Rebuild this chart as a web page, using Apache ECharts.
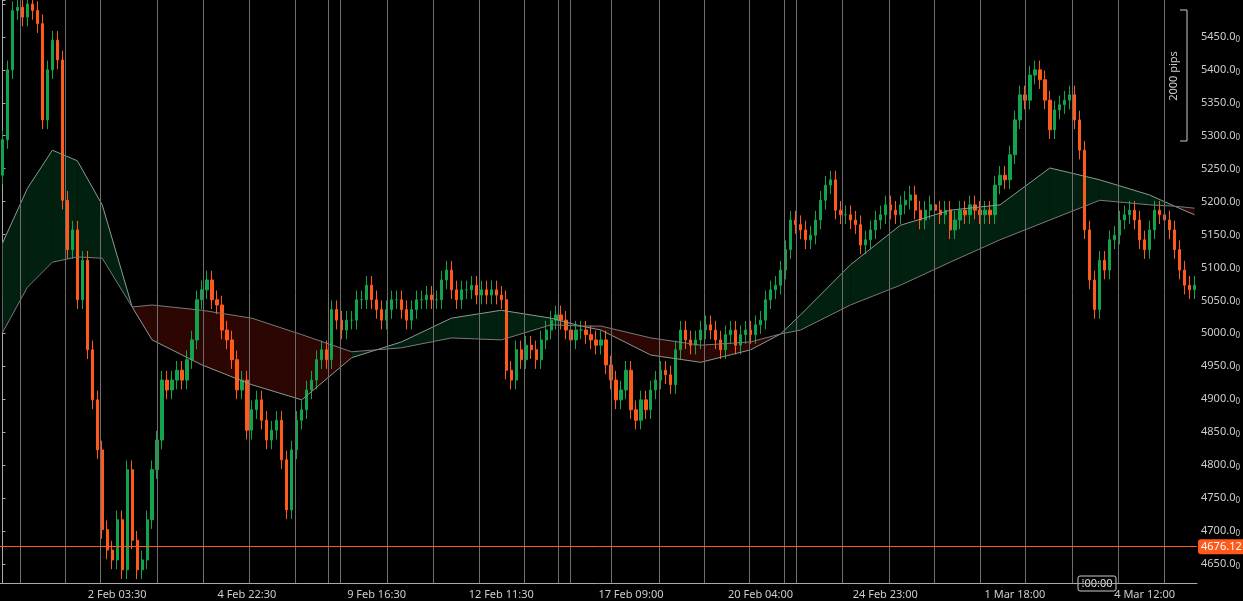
<!DOCTYPE html>
<html><head><meta charset="utf-8">
<script src="https://cdn.jsdelivr.net/npm/echarts@6/dist/echarts.min.js"></script>
<style>html,body{margin:0;background:#000;}#c{width:1243px;height:601px;}</style>
</head><body><div id="c"></div>
<script>
const closes = [
5294,5400,5490,5495,5480,5500,5490,5470,5324,5400,5445,5415,5202,5127,5157,5051,5111,4975,4899,4823,
4702,4671,4656,4717,4641,4793,4686,4641,4656,4717,4793,4838,4929,4914,4929,4944,4929,4960,4990,5051,
5066,5081,5051,5043,5005,4990,4960,4914,4929,4853,4884,4899,4868,4838,4853,4868,4808,4732,4823,4868,
4884,4914,4929,4960,4975,4960,5036,5020,5005,5020,5020,5051,5051,5073,5051,5036,5020,5036,5051,5051,
5036,5020,5036,5051,5051,5058,5051,5051,5081,5096,5066,5051,5066,5066,5073,5058,5066,5058,5066,5058,
5051,4944,4929,4975,4960,4982,4975,4960,4990,5005,5020,5028,5020,5005,4990,5005,5005,4998,4990,4982,
4990,4952,4929,4899,4914,4944,4884,4868,4899,4884,4914,4929,4944,4937,4922,4975,5005,4990,4982,4990,
5005,5013,5005,4990,4975,4998,5005,4982,4998,5005,4998,5013,5020,5051,5066,5073,5096,5127,5172,5165,
5157,5142,5149,5172,5202,5225,5233,5187,5180,5180,5172,5165,5134,5142,5157,5172,5180,5195,5187,5180,
5195,5202,5210,5187,5172,5187,5195,5187,5180,5187,5157,5172,5187,5180,5195,5187,5180,5187,5180,5225,
5240,5233,5271,5324,5362,5354,5392,5400,5385,5354,5309,5339,5347,5354,5362,5324,5278,5157,5081,5036,
5111,5096,5142,5149,5172,5180,5187,5172,5142,5127,5157,5187,5180,5172,5157,5127,5096,5073,5066,5073];
const firstOpen = 5240;
const wick = 14;
const maIdx  = [0,5,10,15,20,26,30,40,50,60,70,80,90,100,110,116,120,130,140,150,156,160,170,180,190,200,210,220,230,235,239];
const maFast = [5137,5220,5278,5262,5195,5040,4990,4952,4922,4899,4963,4987,5023,5035,5023,5011,5005,4967,4956,4975,4999,5028,5104,5164,5187,5195,5251,5233,5210,5193,5180];
const maSlow = [5001,5070,5108,5116,5114,5040,5043,5035,5023,4998,4972,4978,4993,4990,5013,5011,5011,4993,4982,4987,4999,5005,5043,5073,5108,5142,5172,5202,5195,5193,5190];
const sessionLines = [3.5,12.5,19.5,31,40.2,49.4,58.6,65.4,67.8,77.1,86.3,95.5,104.7,111.5,113.9,122.1,131.6,140.8,149.8,156.8,159.2,168.4,177.7,186.9,196.1,205.1,214.5,223.7,232.9];
const tickLabels = {23:'2 Feb 03:30',49:'4 Feb 22:30',75:'9 Feb 16:30',100:'12 Feb 11:30',126:'17 Feb 09:00',152:'20 Feb 04:00',177:'24 Feb 23:00',203:'1 Mar 18:00',229:'4 Mar 12:00'};
const lastPrice = 4676.12;
const yMin = 4621, yMax = 5506;

const cats = closes.map((_, i) => String(i));
const ohlc = closes.map((c, i) => {
  const o = i === 0 ? firstOpen : closes[i - 1];
  return [o, c, Math.min(o, c) - wick, Math.max(o, c) + wick];
});
const bandData = maIdx.slice(0, -1).map((x, i) => [x, maFast[i], maSlow[i], maIdx[i + 1], maFast[i + 1], maSlow[i + 1]]);

const chart = echarts.init(document.getElementById('c'));
chart.setOption({
  backgroundColor: '#000',
  animation: false,
  grid: {left: 0, right: 45, top: 0, bottom: 18},
  xAxis: [{
    type: 'category', data: cats, boundaryGap: true,
    axisLine: {lineStyle: {color: '#aaa'}},
    axisTick: {alignWithLabel: true, interval: (i) => tickLabels[i] !== undefined, lineStyle: {color: '#aaa'}, length: 4},
    axisLabel: {interval: (i) => tickLabels[i] !== undefined, formatter: (v) => tickLabels[+v] || '', color: '#ccc', fontSize: 11, fontFamily: 'Noto Sans', margin: 6},
    splitLine: {show: false}
  }, {
    type: 'value', min: -0.5, max: closes.length - 0.5, show: false
  }],
  yAxis: {
    type: 'value', position: 'right', min: yMin, max: yMax, splitNumber: 18, scale: true,
    axisLine: {show: true, lineStyle: {color: '#aaa'}},
    axisTick: {show: true, length: 3, lineStyle: {color: '#aaa'}},
    splitLine: {show: false},
    axisLabel: {color: '#ccc', fontSize: 11, fontFamily: 'Noto Sans', margin: 4,
      formatter: (v) => (v % 50 === 0 && v <= 5450 ? v.toFixed(1) + '{s|0}' : ''),
      rich: {s: {fontSize: 8, color: '#ccc', verticalAlign: 'bottom', padding: [5, 0, 0, 0]}}}
  },
  series: [
    {type: 'line', xAxisIndex: 1, data: sessionLines.map(v => [v, yMin]), symbol: 'none', lineStyle: {opacity: 0}, silent: true,
     markLine: {symbol: 'none', silent: true, label: {show: false}, lineStyle: {color: '#6e6e6e', type: 'solid', width: 1},
       data: sessionLines.map(v => ({xAxis: v}))}},
    {type: 'custom', xAxisIndex: 1, data: bandData, silent: true,
     renderItem: (params, api) => {
       const f0 = api.value(1), s0 = api.value(2), f1 = api.value(4), s1 = api.value(5);
       const p = [api.coord([api.value(0), f0]), api.coord([api.value(3), f1]), api.coord([api.value(3), s1]), api.coord([api.value(0), s0])];
       const d = (f0 - s0) + (f1 - s1);
       return {type: 'polygon', shape: {points: p}, style: {fill: d >= 0 ? '#02200f' : '#2c0603', stroke: null}};
     }},
    {type: 'line', xAxisIndex: 1, data: maFast.map((v, i) => [maIdx[i], v]), symbol: 'none', lineStyle: {color: '#8a9a90', width: 1}},
    {type: 'line', xAxisIndex: 1, data: maSlow.map((v, i) => [maIdx[i], v]), symbol: 'none', lineStyle: {color: '#7a7a7a', width: 1}},
    {type: 'candlestick', data: ohlc, barWidth: '55%',
     itemStyle: {color: '#12a44c', color0: '#ff5a1a', borderColor: '#12a44c', borderColor0: '#ff5a1a', borderWidth: 1},
     markLine: {symbol: 'none', silent: true,
       label: {position: 'end', formatter: lastPrice.toFixed(2), color: '#fff', backgroundColor: '#ff5a1a', padding: [2, 3], borderRadius: 3, fontSize: 11, fontFamily: 'Noto Sans', distance: 1},
       data: [{yAxis: lastPrice, lineStyle: {color: '#ff5a1a', type: 'solid', width: 1}}]}}
  ],
  graphic: [
    {type: 'polyline', shape: {points: [[1180, 10], [1187, 10], [1187, 141], [1180, 141]]}, style: {stroke: '#ccc', fill: null, lineWidth: 1}},
    {type: 'text', x: 1174, y: 76, rotation: Math.PI / 2, style: {text: '2000 pips', fill: '#ccc', fontSize: 11, fontFamily: 'Noto Sans', align: 'center', verticalAlign: 'middle'}},
    {type: 'rect', shape: {x: 1078, y: 576, width: 38, height: 15, r: 2}, style: {fill: '#000', stroke: '#ccc', lineWidth: 1}},
    {type: 'text', x: 1097, y: 584, style: {text: '⁞00:00', fill: '#ddd', fontSize: 11, fontFamily: 'Noto Sans', align: 'center', verticalAlign: 'middle'}}
  ]
});
</script></body></html>
